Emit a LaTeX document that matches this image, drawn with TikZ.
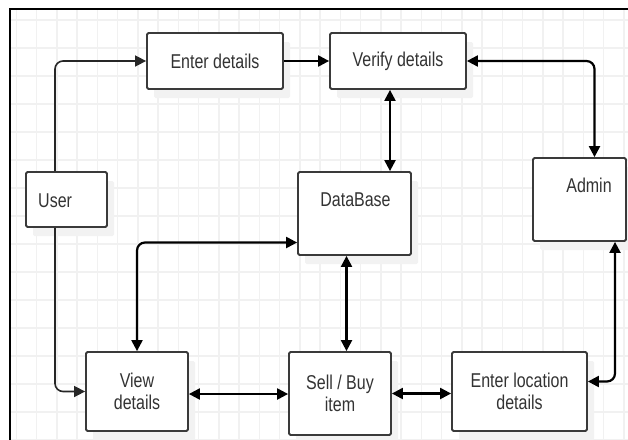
\documentclass[tikz,border=0pt]{standalone}
\usepackage{fontspec}
\setmainfont[FakeStretch=0.8]{Liberation Sans}
\usetikzlibrary{arrows.meta}
\definecolor{gridc}{HTML}{F1F1F1}
\definecolor{edge}{HTML}{3A3A3A}
\definecolor{txt}{HTML}{333333}
\tikzset{
  box/.style={draw=edge, line width=1.8pt, fill=white, rounded corners=1.5pt,
    inner sep=0pt, align=center, text=txt,
    font=\fontsize{20}{22}\selectfont,
    preaction={fill=black!5, draw=none, transform canvas={xshift=7pt,yshift=-9pt}}},
  lbl/.style={inner sep=0pt, text=txt, font=\fontsize{20}{22}\selectfont},
  tip/.style={-{Triangle[length=11pt,width=11pt]}},
  dtip/.style={{Triangle[length=11pt,width=11pt]}-{Triangle[length=11pt,width=11pt]}},
  conn/.style={draw=black!85, line width=1.6pt, rounded corners=8pt},
  dconn/.style={draw=black, line width=2.2pt, rounded corners=8pt}
}
\begin{document}
\begin{tikzpicture}[x=1pt,y=-1pt]
\useasboundingbox (0,0) rectangle (628,439);
\begin{scope}
\clip (10,9) rectangle (628,439);
\foreach \i in {0,...,30} \draw[gridc, line width=1.5pt] ({16.3+20.25*\i},9) -- ({16.3+20.25*\i},439);
\foreach \j in {0,...,15} \draw[gridc, line width=1.5pt] (10,{20+28*\j}) -- (628,{20+28*\j});
\end{scope}
\draw[black, line width=2pt] (10,440) -- (10,9) -- (629,9);

\node[box, minimum width=136pt, minimum height=56pt] (ent) at (215,61) {Enter details};
\node[box, minimum width=136pt, minimum height=56pt] (ver) at (398,61) {Verify details};
\node[box, minimum width=81pt, minimum height=55pt] (user) at (66.5,199.5) {};
\node[lbl, anchor=base west] (userlbl) at (38,207) {User};
\node[box, minimum width=113pt, minimum height=83pt] (db) at (354.5,213.5) {};
\node[lbl, anchor=base] (dblbl) at (355.5,206) {DataBase};
\node[box, minimum width=93pt, minimum height=83pt] (admin) at (579.5,199.5) {};
\node[lbl, anchor=base] (adminlbl) at (589,192) {Admin};
\node[box, minimum width=102pt, minimum height=79pt] (view) at (137,391.5) {View\\details};
\node[box, minimum width=102pt, minimum height=83pt] (sell) at (340,393.5) {Sell / Buy\\item};
\node[box, minimum width=135pt, minimum height=79pt] (loc) at (519.5,391.5) {Enter location\\details};

\draw[conn, tip] ([xshift=-11.5pt]user.north) |- (ent.west);
\draw[conn, tip] ([xshift=-11.5pt]user.south) |- (view.west);
\draw[dconn, tip] (ent.east) -- (ver.west);
\draw[dconn, dtip] (ver.east) -| ([xshift=15pt]admin.north);
\draw[dconn, dtip] ([xshift=-8pt]ver.south) -- ([xshift=-8pt]ver.south |- db.north);
\draw[dconn, dtip] (view.north) |- ([yshift=-29pt]db.west);
\draw[dconn, dtip] ([xshift=-8pt]db.south) -- ([xshift=-8pt]db.south |- sell.north);
\draw[dconn, dtip] ([yshift=-2.5pt]view.east) -- ([yshift=-2.5pt]view.east -| sell.west);
\draw[dconn, dtip] (sell.east) -- (sell.east -| loc.west);
\draw[dconn, dtip] ([yshift=10pt]loc.east) -| ([xshift=35.5pt]admin.south);
\end{tikzpicture}
\end{document}
